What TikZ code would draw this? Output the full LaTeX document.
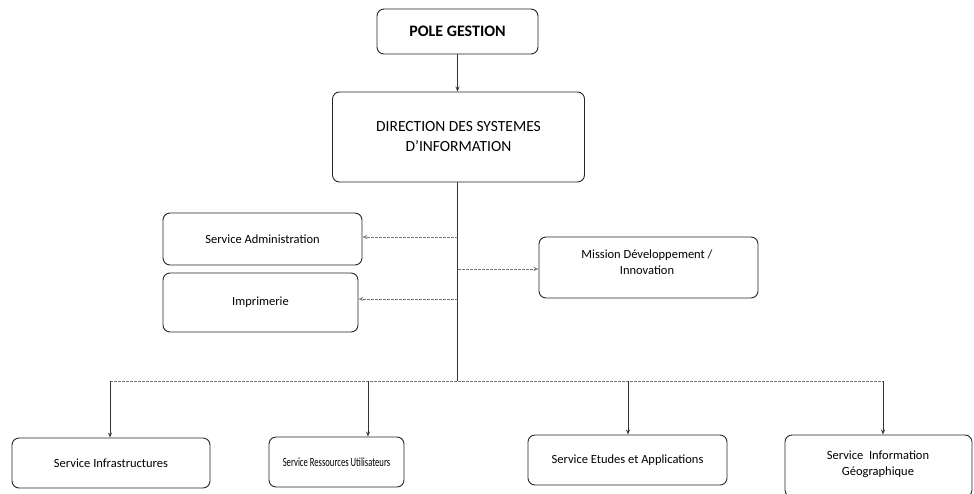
\documentclass[tikz,border=0pt]{standalone}
\usepackage{fontspec}
\setmainfont{Carlito}
\newfontfamily\narrowcarlito[FakeStretch=0.69]{Carlito}
\usetikzlibrary{arrows.meta}
\begin{document}
\begin{tikzpicture}[x=1pt,y=-1pt,
  box/.style={draw=black!85,line width=0.9pt,rounded corners=7pt,inner sep=0pt,align=center},
  fs/.style={font=\fontsize{12.5}{16}\selectfont,align=center},
  solidline/.style={draw=black!80,line width=0.9pt},
  thinline/.style={draw=black!55,line width=0.6pt,dash pattern=on 3pt off 1pt},
  arr/.style={-{Stealth[open,length=5pt,width=4pt]}}
]
\useasboundingbox (0,0) rectangle (974,493);
% nodes
\node[box,minimum width=161pt,minimum height=45pt,font=\fontsize{16}{19}\selectfont\bfseries] (pole) at (457.5,31.5) {POLE GESTION};
\node[box,minimum width=252pt,minimum height=90pt,font=\fontsize{15.5}{20}\selectfont] (dsi) at (458.5,137) {DIRECTION DES SYSTEMES\\D'INFORMATION};
\node[box,fs,minimum width=199pt,minimum height=52pt] (adm) at (262.5,239) {Service Administration};
\node[box,fs,minimum width=195pt,minimum height=59pt] (imp) at (260.5,302.5) {Imprimerie};
\node[box,minimum width=219pt,minimum height=61pt] (mis) at (648.5,267.5) {};
\node[fs] (mist) at (647,262) {Mission Développement /\\Innovation};
\node[box,fs,minimum width=198pt,minimum height=50pt] (inf) at (111,463) {Service Infrastructures};
\node[box,minimum width=135pt,minimum height=50pt,font=\narrowcarlito\fontsize{12.5}{16}\selectfont] (res) at (336.5,462) {Service Ressources Utilisateurs};
\node[box,fs,minimum width=199pt,minimum height=50pt] (etu) at (627.5,460) {Service Etudes et Applications};
\node[box,minimum width=187pt,minimum height=62pt] (geo) at (878.5,466) {};
\node[fs] (geot) at (878,464) {Service~ Information\\Géographique};
% coordinates
\coordinate (a1) at (457.5,237);
\coordinate (a2) at (457.5,269);
\coordinate (a3) at (457.5,299);
\coordinate (bus) at (457.5,381);
\coordinate (b1) at (110,381);
\coordinate (b2) at (368,381);
\coordinate (b3) at (628,381);
\coordinate (b4) at (883,381);
% connectors
\draw[solidline,arr] (pole) -- (pole |- dsi.north);
\draw[solidline] (pole |- dsi.south) -- (bus);
\draw[thinline,arr] (a1) -- (adm.east |- a1);
\draw[thinline,arr] (a3) -- (imp.east |- a3);
\draw[thinline,arr] (a2) -- (mis.west |- a2);
\draw[thinline] (b1) -- (b4);
\draw[solidline,arr] (b1) -- (inf.north -| b1);
\draw[solidline,arr] (b2) -- (res.north -| b2);
\draw[solidline,arr] (b3) -- (etu.north -| b3);
\draw[solidline,arr] (b4) -- (geo.north -| b4);
\end{tikzpicture}
\end{document}
